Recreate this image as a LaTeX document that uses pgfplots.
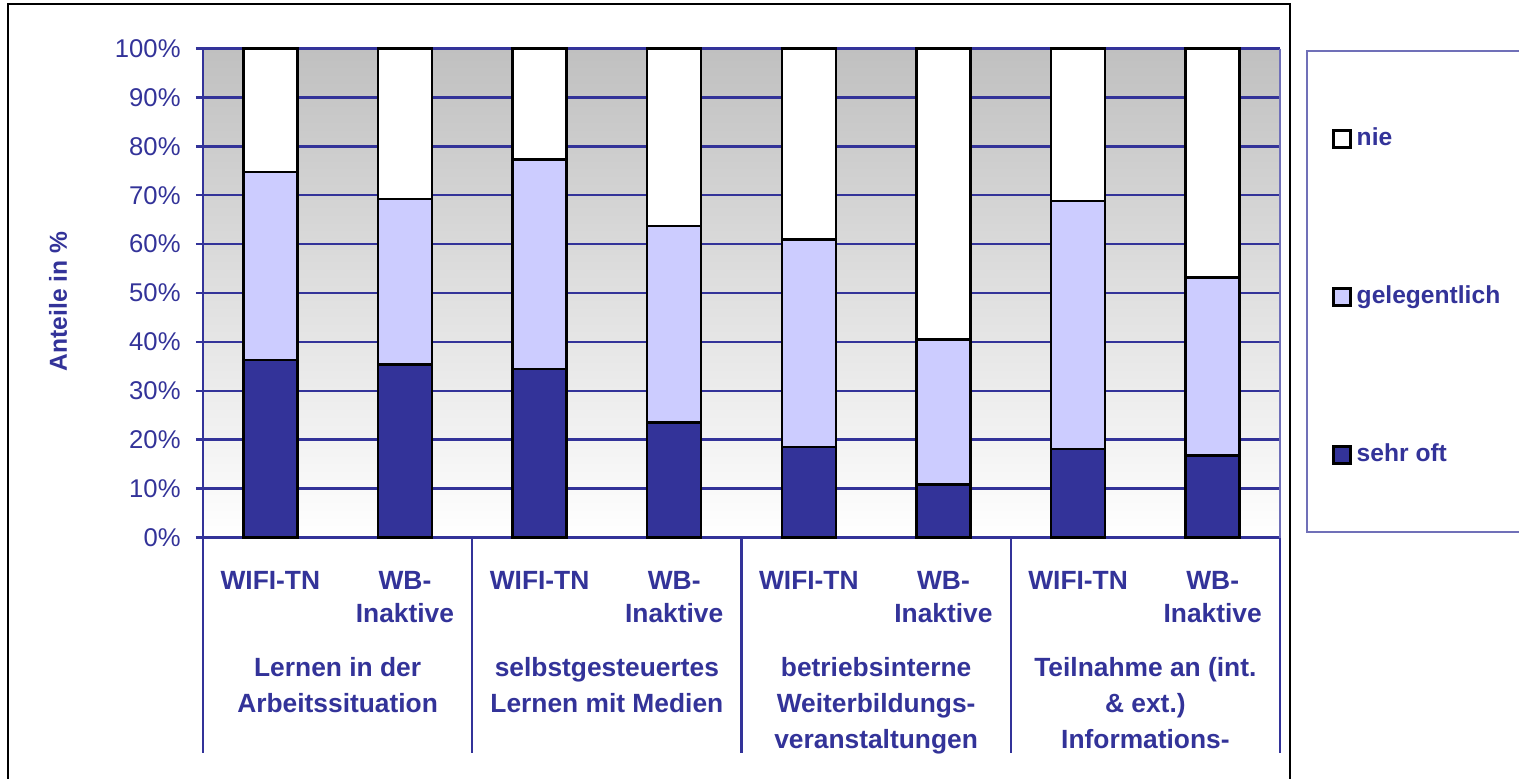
\documentclass[border=0pt]{standalone}
\usepackage{pgfplots}
\pgfplotsset{compat=1.18}
\usepackage{pgfplotstable}
\usepackage{fontspec}
\setmainfont{Liberation Sans}

\definecolor{navy}{RGB}{51,51,153}
\definecolor{lav}{RGB}{204,204,255}
\definecolor{bggray}{RGB}{192,192,192}

% Anteile in %: sehr oft, gelegentlich, nie
\pgfplotstableread{
x sehr gel  nie
0 36.3 38.5 25.2
1 35.4 33.8 30.8
2 34.5 42.8 22.7
3 23.5 40.2 36.3
4 18.5 42.4 39.1
5 10.8 29.7 59.5
6 18.1 50.7 31.2
7 16.8 36.4 46.8
}\datatable

\tikzset{grp/.style={anchor=north, align=center, text=navy,
    font=\bfseries\fontsize{7.5}{10.2}\selectfont}}

\begin{document}
\begin{tikzpicture}
\clip (0,0) rectangle (15.19,7.78);
\fill[white] (0,0) rectangle (15.19,7.78);
% Rahmen des Diagrammbereichs und der Legende
\draw[black, line width=0.8pt] (0.08,-1) -- (0.08,7.74) -- (12.90,7.74) -- (12.90,-1);
\draw[navy!70, line width=0.4pt] (13.07,7.27) rectangle (15.30,2.46);

\begin{axis}[
  at={(2.03cm,2.405cm)}, anchor=south west,
  scale only axis, width=10.77cm, height=4.89cm,
  clip=false,
  ybar stacked, bar width=5.4mm,
  xmin=-0.5, xmax=7.5, ymin=0, ymax=100,
  axis background/.style={shade, top color=bggray, bottom color=white},
  axis lines*=left,
  axis line style={navy, line width=0.7pt},
  ymajorgrids, major grid style={navy, line width=0.7pt},
  ytick={0,10,...,100},
  yticklabels={0\%,10\%,20\%,30\%,40\%,50\%,60\%,70\%,80\%,90\%,100\%},
  yticklabel style={font=\fontsize{7.3}{8}\selectfont, text=navy, xshift=-0.3mm},
  ytick style={navy, line width=0.7pt},
  tick align=outside, major tick length=0.7mm,
  xtick=data,
  xticklabels={WIFI-TN,{WB-\\Inaktive},WIFI-TN,{WB-\\Inaktive},WIFI-TN,{WB-\\Inaktive},WIFI-TN,{WB-\\Inaktive}},
  xticklabel style={font=\bfseries\fontsize{7.5}{9.4}\selectfont, text=navy, align=center, anchor=north, yshift=-1.4mm},
  xtick style={draw=none},
  extra x ticks={-0.5,1.5,3.5,5.5,7.5},
  extra x tick labels={},
  extra x tick style={xtick style={draw=navy, line width=0.7pt}, major tick length=21.5mm, tick align=outside},
  ylabel={Anteile in \%},
  ylabel style={font=\bfseries\fontsize{7}{8}\selectfont, text=navy,
    at={(axis description cs:-0.1346,0.483)}, anchor=center},
  reverse legend,
  legend style={at={(axis description cs:1.048,0.855)}, anchor=north west,
    draw=none, fill=none, inner sep=0pt, row sep=12.1mm,
    font=\bfseries\fontsize{7}{8}\selectfont, text=navy,
    nodes={text height=1.8mm, text depth=0.5mm, inner xsep=0.5mm}},
  legend cell align=left,
  legend image code/.code={\draw[#1,draw=black,line width=0.8pt] (0mm,-0.85mm) rectangle (1.65mm,0.85mm);},
]
\addplot[fill=navy, draw=black, line width=0.7pt] table[x=x, y=sehr]{\datatable};
\addplot[fill=lav, draw=black, line width=0.7pt] table[x=x, y=gel]{\datatable};
\addplot[fill=white, draw=black, line width=0.7pt] table[x=x, y=nie]{\datatable};
\legend{sehr oft, gelegentlich, nie}

% duenne rechte Kante der Zeichenflaeche
\draw[navy!70, line width=0.3pt] (rel axis cs:1,0) -- (rel axis cs:1,1);

\node[grp] at (axis cs:0.5,-22) {Lernen in der\\Arbeitssituation};
\node[grp] at (axis cs:2.5,-22) {selbstgesteuertes\\Lernen mit Medien};
\node[grp] at (axis cs:4.5,-22) {betriebsinterne\\Weiterbildungs-\\veranstaltungen};
\node[grp] at (axis cs:6.5,-22) {Teilnahme an (int.\\\& ext.)\\Informations-};
\end{axis}
\end{tikzpicture}
\end{document}
